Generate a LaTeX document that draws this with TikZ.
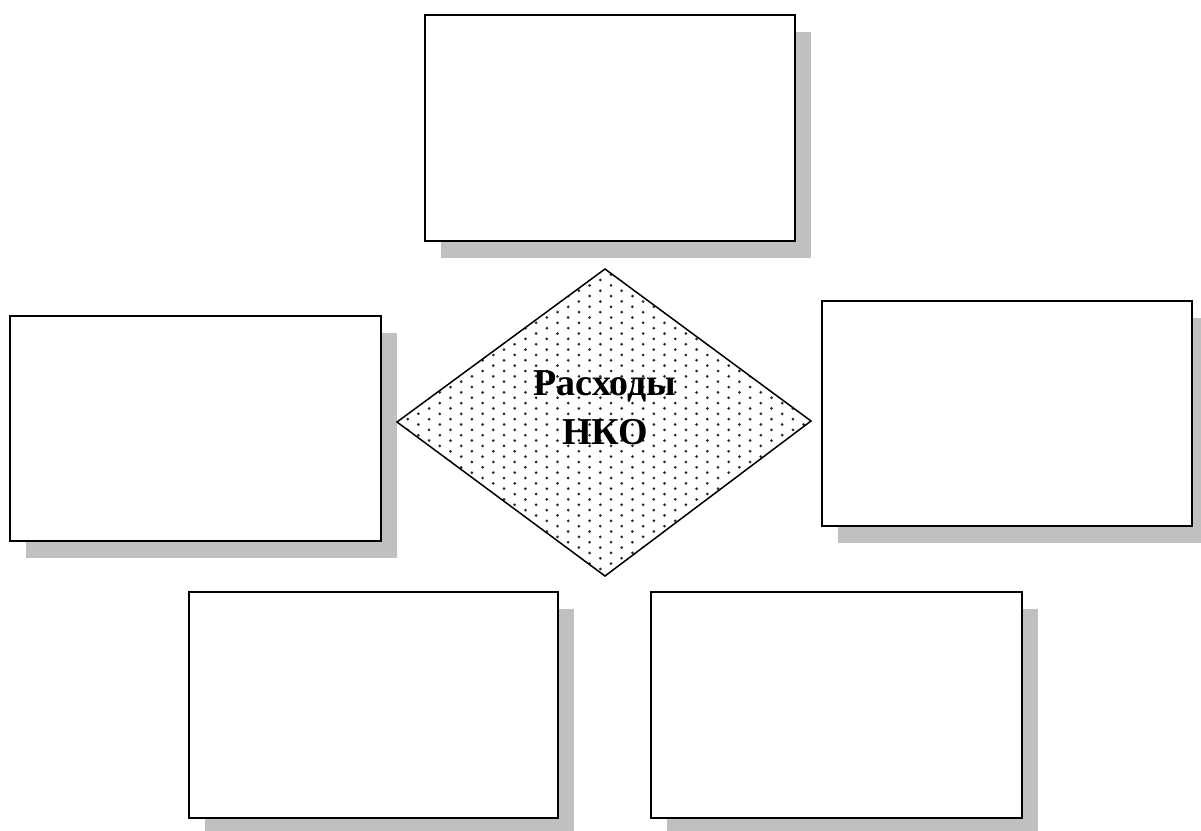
\documentclass[tikz,border=0pt]{standalone}
\usepackage{fontspec}
\setmainfont{Liberation Serif}
\definecolor{shadowgray}{HTML}{C0C0C0}
\definecolor{dotgray}{HTML}{2A2A2A}
\tikzset{
  box/.style={draw=black, line width=2.2pt, fill=white},
  shadowbox/.style={fill=shadowgray, draw=none},
  diam/.style={draw=black, line width=1.5pt},
  lbl/.style={font=\fontsize{38}{49}\selectfont\bfseries, align=center}
}
\newcommand{\shbox}[5]{%
  \fill[shadowbox] (#2+16,#3+17) rectangle (#4+16,#5+17);
  \draw[box] (#2,#3) rectangle (#4,#5);
  \coordinate (#1) at ({(#2+#4)/2},{(#3+#5)/2});
}
\begin{document}
\begin{tikzpicture}[x=1pt,y=-1pt]
\useasboundingbox (0,0) rectangle (1201,830);
% boxes
\shbox{top}{425}{15}{795}{241}
\shbox{left}{10}{316}{381}{541}
\shbox{right}{822}{301}{1192}{526}
\shbox{bl}{189}{592}{558}{818}
\shbox{br}{651}{592}{1022}{818}
% diamond
\coordinate (dt) at (605,269);
\coordinate (dl) at (397,422);
\coordinate (dr) at (811,421);
\coordinate (db) at (605,576);
\fill[white] (dt) -- (dr) -- (db) -- (dl) -- cycle;
\begin{scope}
\clip (dt) -- (dr) -- (db) -- (dl) -- cycle;
\foreach \i in {0,...,40}{
  \foreach \j in {0,...,30}{
    \pgfmathsetmacro{\xx}{397+\i*10.7}
    \pgfmathsetmacro{\yy}{264+\j*10.7+mod(\i,2)*5.35}
    \fill[dotgray] (\xx,\yy) circle (1.5);
  }
}
\end{scope}
\draw[diam] (dt) -- (dr) -- (db) -- (dl) -- cycle;
\node[lbl] (center) at (605,408) {Расходы\\НКО};
\end{tikzpicture}
\end{document}
